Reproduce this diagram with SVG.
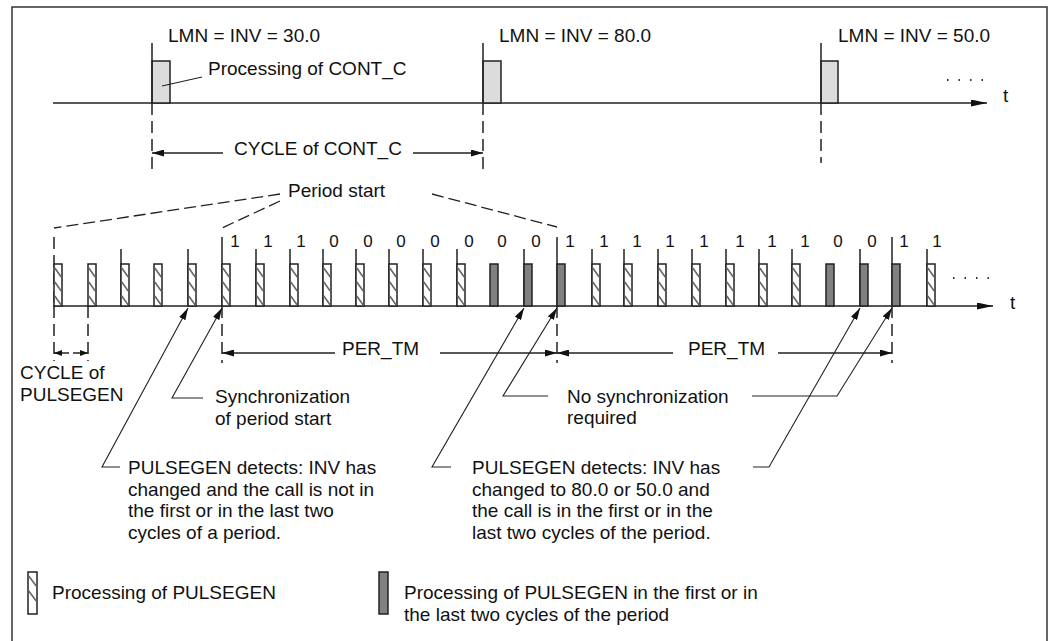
<svg xmlns="http://www.w3.org/2000/svg" xmlns:xlink="http://www.w3.org/1999/xlink" width="1061" height="641" viewBox="0 0 1061 641">
<style>
text{font-family:"Liberation Sans",Arial,sans-serif;font-size:19px;fill:#111}
.num{font-size:17px;text-anchor:middle}
.ln{stroke:#222;stroke-width:1.5;fill:none}
.thin{stroke:#222;stroke-width:1.1;fill:none}
.dash{stroke:#222;stroke-width:1.5;fill:none;stroke-dasharray:12 6}
.dash2{stroke:#222;stroke-width:1.3;fill:none;stroke-dasharray:12 5}
.cc{fill:#dcdcdc;stroke:#222;stroke-width:1.5}
.dk{fill:#808080;stroke:#222;stroke-width:1.5}
.hb{fill:#fff;stroke:#222;stroke-width:1.5}
.hs{stroke:#666;stroke-width:1.6}
.dots{stroke:#333;stroke-width:2;stroke-dasharray:1.5 10;fill:none}
</style>
<defs>
<marker id="ax" viewBox="0 0 16 7" refX="16" refY="3.5" markerWidth="16" markerHeight="7" markerUnits="userSpaceOnUse" orient="auto"><path d="M0,0 L16,3.5 L0,7 z" fill="#111"/></marker>
<marker id="ah" viewBox="0 0 12 7" refX="12" refY="3.5" markerWidth="12" markerHeight="7" markerUnits="userSpaceOnUse" orient="auto"><path d="M0,0 L12,3.5 L0,7 z" fill="#111"/></marker>
<marker id="as" viewBox="0 0 8 6" refX="8" refY="3" markerWidth="8" markerHeight="6" markerUnits="userSpaceOnUse" orient="auto"><path d="M0,0 L8,3 L0,6 z" fill="#111"/></marker>
<g id="hp"><rect class="hb" x="0" y="0" width="8" height="42"/><path class="hs" d="M0.8,4 L7.2,13 M0.8,18 L7.2,27 M0.8,32 L7.2,41"/></g>
<rect id="dp" class="dk" x="0" y="0" width="8" height="42"/>
</defs>

<rect id="frame" x="12" y="7" width="1035" height="645" fill="#fff" stroke="#333" stroke-width="1.5"/>

<g id="cont_c_timeline">
<path class="ln" d="M53,103 L987,103" marker-end="url(#ax)"/>
<text x="1003" y="102">t</text>
<path class="dots" d="M947,80 L985,80"/>
<rect class="cc" x="152" y="61" width="18" height="42"/>
<rect class="cc" x="483" y="61" width="18" height="42"/>
<rect class="cc" x="821" y="61" width="17" height="42"/>
<path class="ln" d="M152,43 L152,103 M483,43 L483,103 M821,43 L821,103"/>
<path class="dash" d="M152,103 L152,174 M483,103 L483,174 M821,103 L821,163"/>
<text x="168" y="42">LMN = INV = 30.0</text>
<text x="499" y="42">LMN = INV = 80.0</text>
<text x="838" y="42">LMN = INV = 50.0</text>
<text x="208" y="75">Processing of CONT_C</text>
<path class="thin" d="M162,86 L202,77"/>
</g>

<g id="cycle_cont_c">
<path class="ln" d="M223,153 L152,153" marker-end="url(#ah)"/>
<path class="ln" d="M413,153 L483,153" marker-end="url(#ah)"/>
<text x="234" y="154.5">CYCLE of CONT_C</text>
</g>

<g id="period_start">
<text x="288" y="197">Period start</text>
<path class="dash2" d="M280,194 L54,228 M280,201 L222,228 M432,194 L557,227"/>
</g>

<g id="pulsegen_timeline">
<path class="ln" d="M53,306 L993,306" marker-end="url(#ax)"/>
<text x="1010" y="309">t</text>
<path class="dots" d="M953,278 L991,278"/>
<!-- ticks -->
<path class="dash" d="M54,237 L54,306"/>
<path class="ln" d="M121,249 V306 M188,249 V306 M256,249 V306 M290,249 V306 M323,249 V306 M356,249 V306 M389,249 V306 M423,249 V306 M457,249 V306 M524,249 V306 M592,249 V306 M624,249 V306 M658,249 V306 M692,249 V306 M726,249 V306 M759,249 V306 M792,249 V306 M860,249 V306 M927,249 V306"/>
<path class="ln" d="M222,237 V306 M557,237 V306 M892,237 V306"/>
<!-- pulses -->
<use xlink:href="#hp" x="54" y="264"/>
<use xlink:href="#hp" x="88" y="264"/>
<use xlink:href="#hp" x="121" y="264"/>
<use xlink:href="#hp" x="154" y="264"/>
<use xlink:href="#hp" x="188" y="264"/>
<use xlink:href="#hp" x="222" y="264"/>
<use xlink:href="#hp" x="256" y="264"/>
<use xlink:href="#hp" x="290" y="264"/>
<use xlink:href="#hp" x="323" y="264"/>
<use xlink:href="#hp" x="356" y="264"/>
<use xlink:href="#hp" x="389" y="264"/>
<use xlink:href="#hp" x="423" y="264"/>
<use xlink:href="#hp" x="457" y="264"/>
<use xlink:href="#dp" x="490" y="264"/>
<use xlink:href="#dp" x="524" y="264"/>
<use xlink:href="#dp" x="557" y="264"/>
<use xlink:href="#hp" x="592" y="264"/>
<use xlink:href="#hp" x="624" y="264"/>
<use xlink:href="#hp" x="658" y="264"/>
<use xlink:href="#hp" x="692" y="264"/>
<use xlink:href="#hp" x="726" y="264"/>
<use xlink:href="#hp" x="759" y="264"/>
<use xlink:href="#hp" x="792" y="264"/>
<use xlink:href="#dp" x="826" y="264"/>
<use xlink:href="#dp" x="860" y="264"/>
<use xlink:href="#dp" x="892" y="264"/>
<use xlink:href="#hp" x="927" y="264"/>
<!-- bit labels -->
<text class="num" x="235" y="247">1</text>
<text class="num" x="268" y="247">1</text>
<text class="num" x="301" y="247">1</text>
<text class="num" x="334" y="247">0</text>
<text class="num" x="368" y="247">0</text>
<text class="num" x="401" y="247">0</text>
<text class="num" x="435" y="247">0</text>
<text class="num" x="469" y="247">0</text>
<text class="num" x="502" y="247">0</text>
<text class="num" x="536" y="247">0</text>
<text class="num" x="570" y="247">1</text>
<text class="num" x="604" y="247">1</text>
<text class="num" x="637" y="247">1</text>
<text class="num" x="670" y="247">1</text>
<text class="num" x="704" y="247">1</text>
<text class="num" x="740" y="247">1</text>
<text class="num" x="772" y="247">1</text>
<text class="num" x="805" y="247">1</text>
<text class="num" x="838" y="247">0</text>
<text class="num" x="872" y="247">0</text>
<text class="num" x="904" y="247">1</text>
<text class="num" x="937" y="247">1</text>
</g>

<g id="dimensions">
<path class="dash" d="M54,306 V361 M88,306 V361 M222,306 V363 M557,306 V363 M892,306 V363"/>
<path class="ln" d="M69,353 L54,353" marker-end="url(#as)"/>
<path class="ln" d="M73,353 L88,353" marker-end="url(#as)"/>
<text x="20" y="379">CYCLE of</text>
<text x="20" y="401">PULSEGEN</text>
<path class="ln" d="M335,353 L222,353" marker-end="url(#ah)"/>
<path class="ln" d="M440,353 L557,353" marker-end="url(#ah)"/>
<text x="342" y="354.5">PER_TM</text>
<path class="ln" d="M673,353 L557,353" marker-end="url(#ah)"/>
<path class="ln" d="M778,353 L892,353" marker-end="url(#ah)"/>
<text x="688" y="354.5">PER_TM</text>
</g>

<g id="connectors">
<path class="thin" d="M120,467 L102,467 L188,308" marker-end="url(#ah)"/>
<path class="thin" d="M203,398 L172,398 L222,308" marker-end="url(#ah)"/>
<path class="thin" d="M451,467 L432,467 L524,308" marker-end="url(#ah)"/>
<path class="thin" d="M548,396 L503,396 L557,308" marker-end="url(#ah)"/>
<path class="thin" d="M752,396 L837,396 L892,308" marker-end="url(#ah)"/>
<path class="thin" d="M753,467 L769,467 L860,308" marker-end="url(#ah)"/>
</g>

<g id="note_sync">
<text x="215" y="403">Synchronization</text>
<text x="215" y="424.5">of period start</text>
</g>
<g id="note_nosync">
<text x="567" y="403">No synchronization</text>
<text x="567" y="424">required</text>
</g>
<g id="note_detect1">
<text x="128" y="474">PULSEGEN detects: INV has</text>
<text x="128" y="495.5">changed and the call is not in</text>
<text x="128" y="517">the first or in the last two</text>
<text x="128" y="539">cycles of a period.</text>
</g>
<g id="note_detect2">
<text x="472" y="474">PULSEGEN detects: INV has</text>
<text x="472" y="495.5">changed to 80.0 or 50.0 and</text>
<text x="472" y="517">the call is in the first or in the</text>
<text x="472" y="539">last two cycles of the period.</text>
</g>

<g id="legend">
<g transform="translate(28,572)"><rect class="hb" x="0" y="0" width="9" height="42"/><path class="hs" d="M0.8,4 L8.2,14 M0.8,19 L8.2,29"/></g>
<text x="52" y="599">Processing of PULSEGEN</text>
<rect class="dk" x="379" y="572" width="9" height="42"/>
<text x="404" y="599">Processing of PULSEGEN in the first or in</text>
<text x="404" y="621">the last two cycles of the period</text>
</g>
</svg>
